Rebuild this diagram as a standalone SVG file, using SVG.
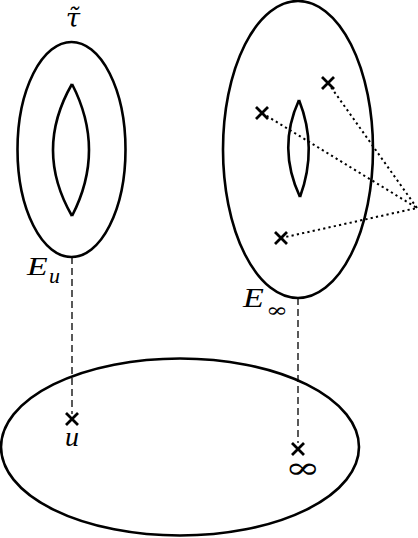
<svg xmlns="http://www.w3.org/2000/svg" width="418" height="538" viewBox="0 0 418 538">
<style>
.shape{fill:none;stroke:#000;stroke-width:2.6}
.dash{fill:none;stroke:#000;stroke-width:1.3;stroke-dasharray:7,4}
.dot{fill:none;stroke:#000;stroke-width:2;stroke-dasharray:2.2,3.2}
.cross{stroke:#000;stroke-width:2.8;fill:none}
.lbl{font-family:"Liberation Serif",serif;font-style:italic;fill:#000}
.sym{font-family:"DejaVu Serif","Liberation Serif",serif;fill:#000}
</style>
<defs>
<path id="x" class="cross" d="M-6,-6L6,6M-6,6L6,-6"/>
</defs>
<rect width="418" height="538" fill="#fff"/>
<g id="connectors">
<line class="dash" x1="72" y1="257" x2="72" y2="414"/>
<line class="dash" x1="298" y1="298" x2="298" y2="443"/>
<line class="dot" x1="328" y1="83" x2="417" y2="208"/>
<line class="dot" x1="262" y1="113" x2="417" y2="208"/>
<line class="dot" x1="281" y1="238" x2="417" y2="208"/>
</g>
<g id="torus-u">
<ellipse class="shape" cx="71.5" cy="149.5" rx="54" ry="107.5"/>
<path class="shape" d="M72,84Q34,150 72,216"/>
<path class="shape" d="M72,84Q106,150 72,216"/>
<text x="73" y="27" font-size="26" text-anchor="middle" style="font-family:'DejaVu Serif',serif;font-style:italic">τ̃</text>
<text class="lbl" x="27" y="275" font-size="26" transform="translate(27,0) scale(1.3,1) translate(-27,0)">E</text>
<text class="lbl" x="49" y="283" font-size="22">u</text>
</g>
<g id="torus-inf">
<ellipse class="shape" cx="298" cy="149.5" rx="75" ry="148.5"/>
<path class="shape" d="M299,100Q277,148 300,197"/>
<path class="shape" d="M299,100Q318,148 300,197"/>
<use href="#x" x="328" y="83"/>
<use href="#x" x="262" y="113"/>
<use href="#x" x="281" y="238"/>
<text class="lbl" x="243" y="307" font-size="28" transform="translate(243,0) scale(1.22,1) translate(-243,0)">E</text>
<text class="sym" x="266" y="317" font-size="20" transform="translate(266,0) scale(1.3,1) translate(-266,0)">∞</text>
</g>
<g id="base">
<ellipse class="shape" cx="180" cy="447" rx="179" ry="88.5"/>
<use href="#x" x="72" y="419"/>
<use href="#x" x="298" y="449"/>
<text class="lbl" x="72" y="446" font-size="28" text-anchor="middle">u</text>
<text class="sym" x="285" y="478" font-size="30" transform="translate(285,0) scale(1.42,1) translate(-285,0)">∞</text>
</g>
</svg>
